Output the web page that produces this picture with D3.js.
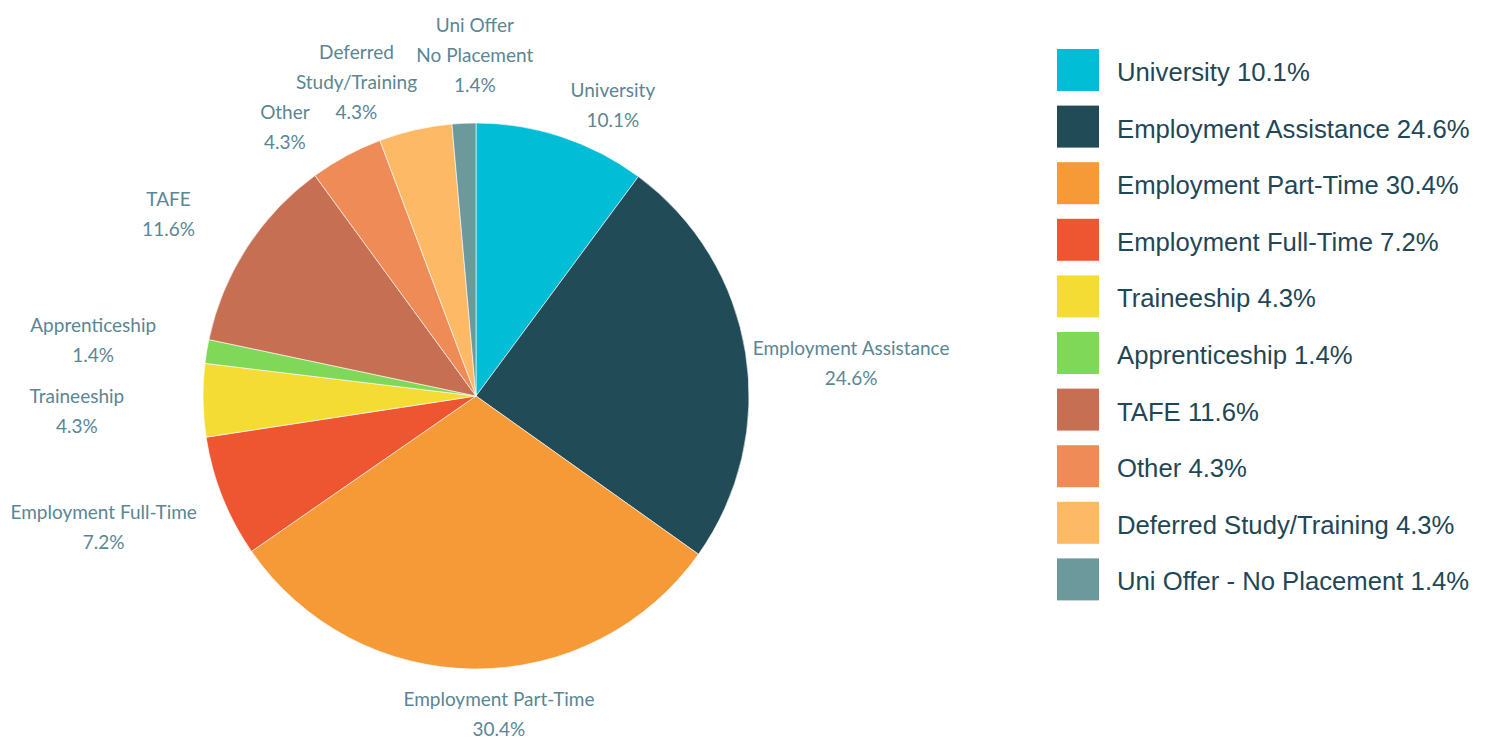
<!DOCTYPE html>
<html>
<head>
<meta charset="utf-8">
<script src="https://cdn.jsdelivr.net/npm/d3@7/dist/d3.min.js"></script>
<style>
  html, body { margin: 0; padding: 0; background: #ffffff; }
  svg { display: block; }
</style>
</head>
<body>
<svg id="chart" width="1488" height="744"></svg>
<script>
// Destinations of school leavers, share of respondents (%)
const categories = [
  "University",
  "Employment Assistance",
  "Employment Part-Time",
  "Employment Full-Time",
  "Traineeship",
  "Apprenticeship",
  "TAFE",
  "Other",
  "Deferred Study/Training",
  "Uni Offer - No Placement"
];
const values = [10.1, 24.6, 30.4, 7.2, 4.3, 1.4, 11.6, 4.3, 4.3, 1.4];
const colors = [
  "#02bdd6", "#214b57", "#f59a37", "#ee5631", "#f4dc35",
  "#7fd858", "#c76f53", "#ef8b57", "#fdb965", "#6c999c"
];
// Slice labels drawn beside the pie (one entry per line)
const sliceLabelLines = [
  ["University"],
  ["Employment Assistance"],
  ["Employment Part-Time"],
  ["Employment Full-Time"],
  ["Traineeship"],
  ["Apprenticeship"],
  ["TAFE"],
  ["Other"],
  ["Deferred", "Study/Training"],
  ["Uni Offer", "No Placement"]
];

// ---- layout ----
const cx = 476, cy = 396, radius = 273;
const labelRadius = radius * 1.18;
const lineHeight = 30;
// fine adjustments of each slice label away from its polar anchor
const labelNudge = [
  [36, 15], [57, 18], [25, -4], [-73, 12], [-77, 10],
  [-65, -3], [-37, -7], [-38, 15], [-48, 0], [13, -19]
];
const legendX = 1057, legendY0 = 70, legendStep = 56.6, swatch = 42;

const fmt = v => d3.format(".1f")(v) + "%";
const data = categories.map((c, i) => ({ name: c, value: values[i], color: colors[i], i }));

const svg = d3.select("#chart");
const g = svg.append("g").attr("transform", `translate(${cx},${cy})`);

const pie = d3.pie().value(d => d.value).sort(null);
const arcs = pie(data);
const arc = d3.arc().innerRadius(0).outerRadius(radius);

g.selectAll("path.slice")
  .data(arcs)
  .join("path")
  .attr("class", "slice")
  .attr("d", arc)
  .attr("fill", d => d.data.color)
  .attr("stroke", "#ffffff")
  .attr("stroke-width", 0.6)
  .attr("stroke-linejoin", "round");

// slice labels
const labelArc = d3.arc().innerRadius(labelRadius).outerRadius(labelRadius);
g.selectAll("text.slice-label")
  .data(arcs)
  .join("text")
  .attr("class", "slice-label")
  .attr("text-anchor", "middle")
  .attr("font-family", "Lato, 'Open Sans', sans-serif")
  .attr("font-size", 19)
  .attr("fill", "#5b8694")
  .each(function (d) {
    const [bx, by] = labelArc.centroid(d);
    const [nx, ny] = labelNudge[d.data.i];
    const lines = sliceLabelLines[d.data.i].concat([fmt(d.data.value)]);
    const x = bx + nx, yc = by + ny;
    const top = yc - (lines.length - 1) * lineHeight / 2;
    const t = d3.select(this);
    lines.forEach((ln, k) => {
      t.append("tspan")
        .attr("x", x)
        .attr("y", top + k * lineHeight)
        .attr("dy", "0.35em")
        .text(ln);
    });
  });

// legend
const legend = svg.append("g").attr("class", "legend");
const rows = legend.selectAll("g.row")
  .data(data)
  .join("g")
  .attr("class", "row")
  .attr("transform", d => `translate(${legendX},${legendY0 + d.i * legendStep})`);

rows.append("rect")
  .attr("x", 0)
  .attr("y", -swatch / 2)
  .attr("width", swatch)
  .attr("height", swatch)
  .attr("fill", d => d.color);

rows.append("text")
  .attr("x", 60)
  .attr("y", 2)
  .attr("dy", "0.35em")
  .attr("font-family", "'Liberation Sans', Arial, sans-serif")
  .attr("font-size", 25.7)
  .attr("fill", "#1f4756")
  .text(d => `${d.name} ${fmt(d.value)}`);
</script>
</body>
</html>
